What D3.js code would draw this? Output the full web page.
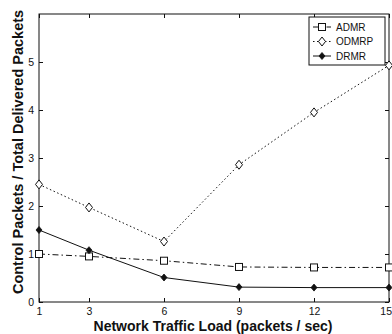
<!DOCTYPE html>
<html>
<head>
<meta charset="utf-8">
<script src="https://cdn.jsdelivr.net/npm/d3@7"></script>
<style>
  body { margin: 0; background: #fff; }
  text { font-family: "Liberation Sans", Arial, sans-serif; fill: #111; }
</style>
</head>
<body>
<script>
// dimensions
const width = 392;
const height = 334;

const margin = { top: 14, right: 3, bottom: 32, left: 39 };

// data
const loads = [1, 3, 6, 9, 12, 15];
const admr = [1.0, 0.95, 0.86, 0.73, 0.72, 0.72];
const odmrp = [2.45, 1.97, 1.26, 2.86, 3.95, 4.93];
const drmr = [1.5, 1.08, 0.51, 0.31, 0.30, 0.30];

const xTicks = [1, 3, 6, 9, 12, 15];
const yTicks = [0, 1, 2, 3, 4, 5];

const seriesNames = ["ADMR", "ODMRP", "DRMR"];
const seriesDash = ["6,3,1.5,3", "1.5,2.5", null];
const seriesMarker = ["square", "diamond", "filled"];
const seriesValues = [admr, odmrp, drmr];

const ink = "#111";

let svg = d3.select("body")
    .append("svg")
    .attr("width", width)
    .attr("height", height);

const plotW = width - margin.left - margin.right;
const plotH = height - margin.top - margin.bottom;

let g = svg.append("g")
    .attr("transform", "translate(" + margin.left + "," + margin.top + ")");

let x = d3.scaleLinear().domain([1, 15]).range([0, plotW]);
let y = d3.scaleLinear().domain([0, 6]).range([plotH, 0]);

// frame
g.append("rect")
    .attr("width", plotW)
    .attr("height", plotH)
    .attr("fill", "none")
    .attr("stroke", ink)
    .attr("stroke-width", 1);

// axes with inward ticks (matlab style)
let xAxis = g.append("g")
    .attr("transform", "translate(0," + plotH + ")")
    .call(d3.axisBottom(x).tickValues(xTicks).tickFormat(d3.format("d")).tickSize(-4).tickPadding(6));
let yAxis = g.append("g")
    .call(d3.axisLeft(y).tickValues(yTicks).tickFormat(d3.format("d")).tickSize(-4).tickPadding(5));
g.append("g")
    .call(d3.axisTop(x).tickValues(xTicks).tickSize(-4).tickFormat(""));
g.append("g")
    .attr("transform", "translate(" + plotW + ",0)")
    .call(d3.axisRight(y).tickValues(yTicks).tickSize(-4).tickFormat(""));

svg.selectAll(".domain").remove();
svg.selectAll(".tick line").attr("stroke", ink);
svg.selectAll(".tick text")
    .style("font-size", "10.5px")
    .attr("fill", ink);

// keep the last x label inside the window
xAxis.selectAll(".tick text")
    .filter(function (d) { return d === 15; })
    .attr("text-anchor", "end")
    .attr("dx", "2.5");

// lines
let line = d3.line()
    .x(function (d, i) { return x(loads[i]); })
    .y(function (d) { return y(d); });

seriesValues.forEach(function (vals, k) {
    g.append("path")
        .datum(vals)
        .attr("d", line)
        .attr("fill", "none")
        .attr("stroke", ink)
        .attr("stroke-width", 1)
        .attr("stroke-dasharray", seriesDash[k]);
});

function drawMarker(sel, type, cx, cy) {
    if (type === "square") {
        sel.append("rect")
            .attr("x", cx - 3.5).attr("y", cy - 3.5)
            .attr("width", 7).attr("height", 7)
            .attr("fill", "#fff").attr("stroke", ink).attr("stroke-width", 1);
    } else if (type === "diamond") {
        sel.append("path")
            .attr("d", "M" + cx + "," + (cy - 4.5) + "L" + (cx + 3.5) + "," + cy +
                "L" + cx + "," + (cy + 4.5) + "L" + (cx - 3.5) + "," + cy + "Z")
            .attr("fill", "#fff").attr("stroke", ink).attr("stroke-width", 1);
    } else {
        sel.append("path")
            .attr("d", "M" + cx + "," + (cy - 3.5) + "L" + (cx + 3) + "," + cy +
                "L" + cx + "," + (cy + 3.5) + "L" + (cx - 3) + "," + cy + "Z")
            .attr("fill", ink).attr("stroke", ink).attr("stroke-width", 0.8);
    }
}

// markers
seriesValues.forEach(function (vals, k) {
    vals.forEach(function (v, i) {
        drawMarker(g, seriesMarker[k], x(loads[i]), y(v));
    });
});

// legend
let legend = svg.append("g").attr("transform", "translate(309,17)");
legend.append("rect")
    .attr("width", 76)
    .attr("height", 48)
    .attr("fill", "#fff")
    .attr("stroke", ink)
    .attr("stroke-width", 1);

seriesNames.forEach(function (name, k) {
    let ly = 10 + k * 14.5;
    legend.append("line")
        .attr("x1", 4).attr("x2", 22)
        .attr("y1", ly).attr("y2", ly)
        .attr("stroke", ink)
        .attr("stroke-dasharray", seriesDash[k]);
    drawMarker(legend, seriesMarker[k], 13, ly);
    legend.append("text")
        .attr("x", 27)
        .attr("y", ly + 3.5)
        .style("font-size", "10px")
        .text(name);
});

// axis titles
svg.append("text")
    .attr("x", 213)
    .attr("y", 331)
    .attr("text-anchor", "middle")
    .style("font-size", "14px")
    .style("font-weight", "bold")
    .text("Network Traffic Load (packets / sec)");

svg.append("text")
    .attr("transform", "translate(23,152) rotate(-90)")
    .attr("text-anchor", "middle")
    .style("font-size", "14.5px")
    .style("font-weight", "bold")
    .text("Control Packets / Total Delivered Packets");
</script>
</body>
</html>
